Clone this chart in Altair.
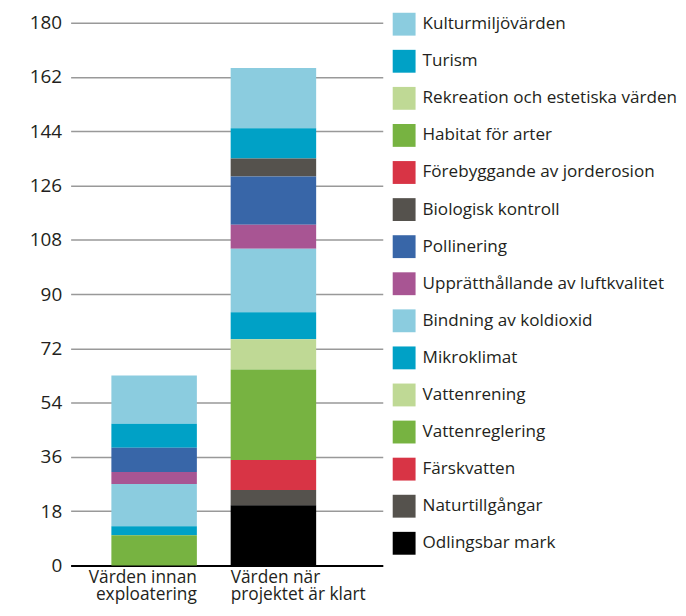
import altair as alt
import pandas as pd

categories = [
    "Kulturmiljövärden", "Turism", "Rekreation och estetiska värden",
    "Habitat för arter", "Förebyggande av jorderosion", "Biologisk kontroll",
    "Pollinering", "Upprätthållande av luftkvalitet", "Bindning av koldioxid",
    "Mikroklimat", "Vattenrening", "Vattenreglering", "Färskvatten",
    "Naturtillgångar", "Odlingsbar mark",
]
colors = [
    "#8BCCDF", "#00A1C6", "#BFD995", "#77B341", "#D83445", "#55524D",
    "#3866A8", "#A85593", "#8BCCDF", "#00A1C6", "#BFD995", "#77B341",
    "#D83445", "#55524D", "#000000",
]
bars = ["Värden innan|exploatering", "Värden när|projektet är klart"]
before = [16, 8, 0, 0, 0, 0, 8, 4, 14, 3, 0, 10, 0, 0, 0]
after = [20, 10, 0, 0, 0, 6, 16, 8, 21, 9, 10, 30, 10, 5, 20]
y_ticks = [0, 18, 36, 54, 72, 90, 108, 126, 144, 162, 180]

rows = []
n = len(categories)
for b, vals in zip(bars, [before, after]):
    for i, (c, v) in enumerate(zip(categories, vals)):
        if v > 0:
            rows.append({"bar": b, "cat": c, "value": v, "pos": n - 1 - i})
df = pd.DataFrame(rows)

FONT = "Open Sans"
TXT = "#231F20"
FS = 17.2

chart = (
    alt.Chart(df)
    .mark_bar()
    .encode(
        x=alt.X(
            "bar:N",
            sort=bars,
            scale=alt.Scale(paddingInner=0.2833, paddingOuter=0.45, align=0.3796),
            axis=alt.Axis(
                title=None,
                labelExpr="split(datum.label, '|')",
                labelAngle=0,
                labelAlign={"condition": {"test": "indexof(datum.value, 'innan') >= 0", "value": "right"}, "value": "left"},
                labelOffset={"condition": {"test": "indexof(datum.value, 'innan') >= 0", "value": 43}, "value": -43},
                labelBaseline="top",
                labelPadding=3,
                labelLineHeight=17.5,
                labelFont=FONT,
                labelFontSize=17.4,
                labelColor=TXT,
                ticks=False,
                domainColor="#000000",
                domainWidth=2,
                grid=False,
            ),
        ),
        y=alt.Y(
            "value:Q",
            stack="zero",
            scale=alt.Scale(domain=[0, 180], nice=False),
            axis=alt.Axis(
                values=y_ticks,
                title=None,
                domain=False,
                ticks=False,
                gridColor="#999999",
                gridWidth=1.5,
                labelPadding=9,
                labelFont=FONT,
                labelFontSize=19,
                labelColor=TXT,
            ),
        ),
        color=alt.Color(
            "cat:N",
            scale=alt.Scale(domain=categories, range=colors),
            legend=alt.Legend(
                title=None,
                orient="none",
                legendX=324,
                legendY=-10,
                symbolType="square",
                symbolSize=529,
                symbolStrokeWidth=0,
                symbolOpacity=1,
                labelFont=FONT,
                labelFontSize=FS,
                labelColor=TXT,
                labelOffset=7,
                rowPadding=14.3,
                labelLimit=400,
                padding=0,
            ),
        ),
        order=alt.Order("pos:Q", sort="ascending"),
    )
    .properties(width=314, height=546, padding={"left": 21, "top": 3, "right": 0, "bottom": 0})
    .configure_view(stroke=None)
)

chart.save("out.html", embed_options={"renderer": "svg", "actions": False})
